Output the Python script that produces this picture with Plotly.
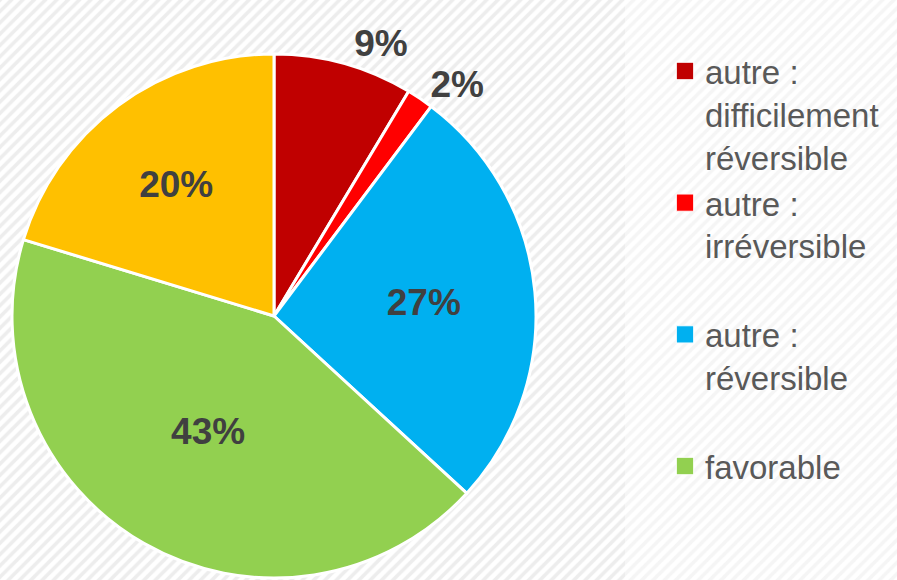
import plotly.graph_objects as go

# Data
categories = ["autre :<br>difficilement<br>réversible", "autre :<br>irréversible<br> ",
              "autre :<br>réversible<br> ", "favorable", "défavorable"]
values = [8.6, 1.65, 26.6, 42.9, 20.3]
colors = ["#C00000", "#FF0000", "#00B0F0", "#92D050", "#FFC000"]

W, H = 897, 580
FONT = "Liberation Sans Narrow, Arial Narrow, Liberation Sans, Arial, sans-serif"
LEG_FONT = "Liberation Sans, Arial, sans-serif"

fig = go.Figure()

# hatched background (drawn via pattern fill)
fig.add_trace(go.Scatter(
    x=[0, 625 / W, 625 / W, 0, 0], y=[0, 0, 1, 1, 0], mode="lines",
    fill="toself", line=dict(width=0), fillcolor="white",
    fillpattern=dict(shape="/", size=8, solidity=0.45, fgcolor="#dcdcdc", bgcolor="white"),
    hoverinfo="skip", showlegend=False))
fig.add_trace(go.Scatter(
    x=[625 / W, 1, 1, 625 / W, 625 / W], y=[0, 0, 1, 1, 0], mode="lines",
    fill="toself", line=dict(width=0), fillcolor="white",
    fillpattern=dict(shape="/", size=8, solidity=0.45, fgcolor="#ececec", bgcolor="white"),
    hoverinfo="skip", showlegend=False))

fig.add_trace(go.Pie(
    labels=categories, values=values, sort=False, direction="clockwise", rotation=0,
    marker=dict(colors=colors, line=dict(color="white", width=3)),
    texttemplate="%{percent:.0%}",
    textposition=["outside", "outside", "inside", "inside", "inside"],
    insidetextorientation="horizontal",
    textfont=dict(family=FONT, size=37, color="#404040", weight="bold"),
    domain=dict(x=[12 / W, 536 / W], y=[2 / H, 1 - 54 / H]),
    hoverinfo="label+percent",
))

fig.update_layout(
    width=W, height=H,
    margin=dict(l=0, r=0, t=0, b=0, autoexpand=False),
    paper_bgcolor="white", plot_bgcolor="white",
    xaxis=dict(range=[0, 1], visible=False, fixedrange=True, domain=[0, 1]),
    yaxis=dict(range=[0, 1], visible=False, fixedrange=True, domain=[0, 1]),
    showlegend=True,
    legend=dict(
        xref="container", yref="container", x=665 / W, y=1 - 43 / H,
        xanchor="left", yanchor="top", valign="top",
        font=dict(family=LEG_FONT, size=33, color="#595959"),
        bgcolor="rgba(0,0,0,0)", traceorder="normal", maxheight=2000,
    ),
)

post = """
document.body.style.margin = '0';
document.querySelectorAll('path.textline').forEach(function(e){ e.remove(); });
document.querySelectorAll('.legendpoints path').forEach(function(p){
  var t = p.getAttribute('transform') || '';
  p.setAttribute('transform', t + ' scale(1.45)');
  p.style.strokeWidth = '0.7px';
});
var items = document.querySelectorAll('.legend .traces');
if (items.length > 4) { items[items.length - 1].remove(); }
"""

fig.write_html("out.html", post_script=post, config={"displayModeBar": False})
